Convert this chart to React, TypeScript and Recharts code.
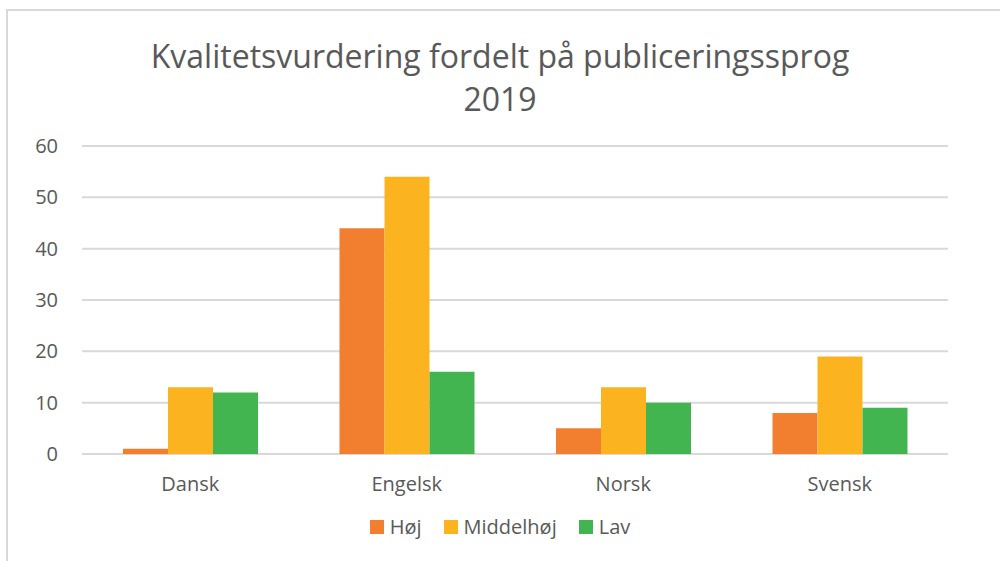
import { BarChart, Bar, XAxis, YAxis, CartesianGrid } from "recharts";

const sprog = ["Dansk", "Engelsk", "Norsk", "Svensk"];
const hoej = [1, 44, 5, 8];
const middelhoej = [13, 54, 13, 19];
const lav = [12, 16, 10, 9];
const yTicks = [0, 10, 20, 30, 40, 50, 60];

const series = [
  { key: "Høj", color: "#F27F2F" },
  { key: "Middelhøj", color: "#FBB41F" },
  { key: "Lav", color: "#42B551" },
];

const data = sprog.map((name, i) => ({
  name,
  "Høj": hoej[i],
  "Middelhøj": middelhoej[i],
  Lav: lav[i],
}));

const font = "'Open Sans', sans-serif";

export default function App() {
  return (
    <div
      style={{
        position: "absolute",
        left: 0,
        top: 0,
        width: 1000,
        height: 561,
        background: "#fff",
        overflow: "hidden",
      }}
    >
      <div
        style={{
          position: "absolute",
          left: 6,
          top: 9,
          width: 1100,
          height: 700,
          border: "2px solid #d9d9d9",
        }}
      />
      <div
        style={{
          position: "absolute",
          left: 0,
          top: 34,
          width: 1000,
          textAlign: "center",
          fontFamily: font,
          fontSize: 32,
          lineHeight: "43px",
          color: "#595959",
        }}
      >
        Kvalitetsvurdering fordelt på publiceringssprog
        <br />
        2019
      </div>
      <div style={{ position: "absolute", left: 0, top: 0 }}>
        <BarChart
          width={1000}
          height={561}
          data={data}
          margin={{ top: 146, right: 52, bottom: 77, left: 0 }}
          barCategoryGap={41}
          barGap={0}
        >
          <CartesianGrid vertical={false} stroke="#d9d9d9" strokeWidth={2} />
          <XAxis
            dataKey="name"
            height={30}
            axisLine={false}
            tickLine={false}
            tickSize={0}
            tickMargin={23}
            tick={{ fill: "#595959", fontSize: 20, fontFamily: font }}
          />
          <YAxis
            width={82}
            domain={[0, 60]}
            ticks={yTicks}
            axisLine={false}
            tickLine={false}
            tickSize={0}
            tickMargin={24}
            tick={{ fill: "#595959", fontSize: 20, fontFamily: font }}
          />
          {series.map((s) => (
            <Bar
              key={s.key}
              dataKey={s.key}
              fill={s.color}
              isAnimationActive={false}
            />
          ))}
        </BarChart>
      </div>
      <div
        style={{
          position: "absolute",
          left: 0,
          top: 513,
          width: 1000,
          display: "flex",
          justifyContent: "center",
          fontFamily: font,
          fontSize: 20,
          color: "#595959",
        }}
      >
        {series.map((s) => (
          <div
            key={s.key}
            style={{ display: "flex", alignItems: "center", margin: "0 11px" }}
          >
            <span
              style={{
                width: 14,
                height: 14,
                background: s.color,
                display: "inline-block",
                marginRight: 6,
              }}
            />
            <span>{s.key}</span>
          </div>
        ))}
      </div>
    </div>
  );
}
